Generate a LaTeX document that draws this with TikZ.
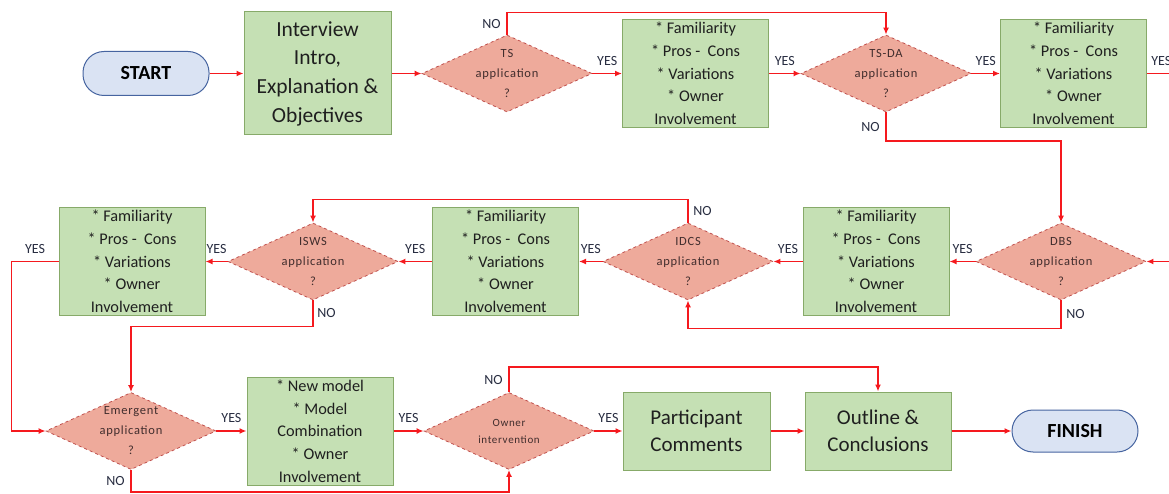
\documentclass[tikz,border=0pt]{standalone}
\usepackage{fontspec}
\setmainfont{Carlito}
\newfontfamily\decfont[LetterSpace=6]{Carlito}
\usetikzlibrary{shapes.geometric,arrows.meta}

\definecolor{boxfill}{RGB}{197,224,180}
\definecolor{boxline}{RGB}{135,170,105}
\definecolor{decfill}{RGB}{238,170,155}
\definecolor{decline}{RGB}{192,80,77}
\definecolor{dectext}{RGB}{65,45,45}
\definecolor{pillfill}{RGB}{218,227,243}
\definecolor{pillline}{RGB}{70,100,160}
\definecolor{flowred}{RGB}{245,25,30}
\definecolor{lbltext}{RGB}{40,45,65}

\begin{document}
\begin{tikzpicture}[x=1pt,y=-1pt,
    proc/.style={draw=boxline,fill=boxfill,line width=1pt,minimum width=146pt,minimum height=108pt,
      inner sep=0pt,align=center,text=black!88,font=\fontsize{16.3}{22.7}\selectfont},
    bigproc/.style={proc,minimum height=78pt,font=\fontsize{21}{27}\selectfont},
    decide/.style={diamond,draw=decline,dashed,line width=0.8pt,fill=decfill,aspect=2.2,
      minimum width=170pt,minimum height=77pt,inner sep=-15pt,align=center,text=dectext,
      font=\decfont\fontsize{12.5}{20}\selectfont},
    term/.style={draw=pillline,fill=pillfill,line width=1pt,rounded corners=21pt,
      minimum width=126pt,minimum height=44pt,font=\bfseries\fontsize{20}{22}\selectfont},
    flow/.style={draw=flowred,line width=1.8pt,-{Latex[length=7pt,width=6pt]}},
    lbl/.style={font=\fontsize{14}{16}\selectfont,text=lbltext,inner sep=1.5pt}]

    \useasboundingbox (0,0) rectangle (1169,494);

    % first row
    \node [term] (start) at (146,73.5) {START};
    \node [proc,minimum width=147pt,minimum height=123pt,font=\fontsize{21.5}{28.7}\selectfont] (intro) at (317.5,73.5)
        {Interview\\Intro,\\Explanation \&\\Objectives};
    \node [decide] (ts) at (507,73.5) {TS\\application\\?};
    \node [proc] (ts-box) at (695.5,73.5) {* Familiarity\\* Pros -~ Cons\\* Variations\\* Owner\\Involvement};
    \node [decide] (tsda) at (886,73.5) {TS-DA\\application\\?};
    \node [proc] (tsda-box) at (1073.5,73.5) {* Familiarity\\* Pros -~ Cons\\* Variations\\* Owner\\Involvement};
    \coordinate (out) at (1169,73.5);

    % second row, right to left
    \coordinate (in) at (1169,261.5);
    \node [decide] (dbs) at (1061,261.5) {DBS\\application\\?};
    \node [proc] (dbs-box) at (876,261.5) {* Familiarity\\* Pros -~ Cons\\* Variations\\* Owner\\Involvement};
    \node [decide] (idcs) at (688,261.5) {IDCS\\application\\?};
    \node [proc] (idcs-box) at (505.5,261.5) {* Familiarity\\* Pros -~ Cons\\* Variations\\* Owner\\Involvement};
    \node [decide] (isws) at (313,261.5) {ISWS\\application\\?};
    \node [proc] (isws-box) at (132,261.5) {* Familiarity\\* Pros -~ Cons\\* Variations\\* Owner\\Involvement};

    % third row
    \node [decide] (emerg) at (131,431) {Emergent\\application\\?};
    \node [proc] (emerg-box) at (320,431) {* New model\\* Model\\Combination\\* Owner\\Involvement};
    \node [decide,font=\decfont\fontsize{11}{17}\selectfont] (owner) at (509,431) {Owner\\intervention};
    \node [bigproc,minimum width=147pt] (comments) at (696.5,431) {Participant\\Comments};
    \node [bigproc] (outline) at (878,431) {Outline \&\\Conclusions};
    \node [term,minimum height=42pt] (finish) at (1075,431) {FINISH};

    \draw [flow] (start) -- (intro);
    \draw [flow] (intro) -- (ts);
    \draw [flow] (ts) -- node[lbl,above=6pt]{YES} (ts-box);
    \draw [flow] (ts.north) -- node[lbl,left=4pt]{NO} ++(0,-22) -| (tsda.north);
    \draw [flow] (ts-box) -- node[lbl,above=6pt]{YES} (tsda);
    \draw [flow] (tsda) -- node[lbl,above=6pt]{YES} (tsda-box);
    \draw [flow] (tsda.south) -- node[lbl,left=4pt]{NO} ++(0,29) -| (dbs.north);
    \draw [flowred,line width=1.8pt] (tsda-box) -- node[lbl,above=6pt,pos=0.65]{YES} (out);

    \draw [flow] (in) -- (dbs);
    \draw [flow] (dbs) -- node[lbl,above=6pt]{YES} (dbs-box);
    \draw [flow] (dbs.south) -- node[lbl,right=3pt]{NO} ++(0,28) -| (idcs.south);
    \draw [flow] (dbs-box) -- node[lbl,above=6pt]{YES} (idcs);
    \draw [flow] (idcs) -- node[lbl,above=6pt]{YES} (idcs-box);
    \draw [flow] (idcs.north) -- node[lbl,right=3pt]{NO} ++(0,-23) -| (isws.north);
    \draw [flow] (idcs-box) -- node[lbl,above=6pt]{YES} (isws);
    \draw [flow] (isws) -- node[lbl,above=6pt]{YES} (isws-box);
    \draw [flow] (isws.south) -- node[lbl,right=2pt]{NO} ++(0,26) -| (emerg.north);
    \draw [flow] (isws-box.west) -- node[lbl,above=6pt]{YES} ++(-47,0) |- (emerg.west);

    \draw [flow] (emerg) -- node[lbl,above=6pt]{YES} (emerg-box);
    \draw [flow] (emerg.south) -- node[lbl,left=4pt]{NO} ++(0,22) -| (owner.south);
    \draw [flow] (emerg-box) -- node[lbl,above=6pt]{YES} (owner);
    \draw [flow] (owner) -- node[lbl,above=6pt]{YES} (comments);
    \draw [flow] (owner.north) -- node[lbl,left=4pt]{NO} ++(0,-25) -| (outline.north);
    \draw [flow] (comments) -- (outline);
    \draw [flow] (outline) -- (finish);
\end{tikzpicture}
\end{document}
